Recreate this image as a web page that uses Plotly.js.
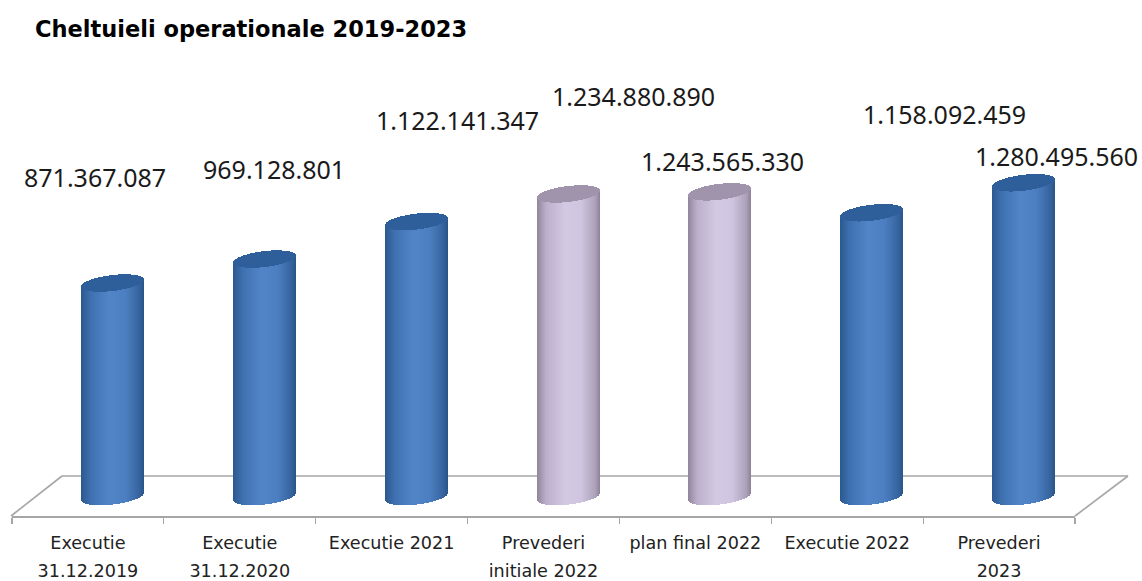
<!DOCTYPE html>
<html>
<head>
<meta charset="utf-8">
<script src="https://cdn.plot.ly/plotly-3.0.1.min.js"></script>
<style>html,body{margin:0;padding:0;background:#fff}</style>
</head>
<body>
<div id="chart" style="width:1142px;height:581px"></div>
<script>
// ---- data ----
const categories = ["Executie<br>31.12.2019", "Executie<br>31.12.2020", "Executie 2021", "Prevederi<br>initiale 2022", "plan final 2022", "Executie 2022", "Prevederi<br>2023"];
const values = [871367087, 969128801, 1122141347, 1234880890, 1243565330, 1158092459, 1280495560];
const valueLabels = ["871.367.087", "969.128.801", "1.122.141.347", "1.234.880.890", "1.243.565.330", "1.158.092.459", "1.280.495.560"];
const seriesKind = ["blue", "blue", "blue", "lilac", "lilac", "blue", "blue"];
const labelDx = [-17, 10, 41, 65, 3, 73, 33];
const labelDy = [-106, -90, -102, -98, -31, -99, -27];

// ---- geometry ----
const W = 1142, H = 581;
const plotL = 12, plotR = 1075, plotT = 50, plotB = 516;
const zeroPx = 496.5, pxPerUnit = 0.245 / 1e6;
const catPx = (plotR - plotL) / 7;
const shift = 24.5 / catPx;
const barW = 63 / catPx;
const capA = 8, capTilt = 3.5;
const yMin = -(plotB - zeroPx) / pxPerUnit, yMax = (zeroPx - plotT) / pxPerUnit;
const px2u = p => p / pxPerUnit;

const stops = {
  blue:  [[-1,[44,88,142]],[-0.7,[62,112,176]],[-0.1,[82,133,200]],[0.4,[76,127,194]],[0.85,[54,100,158]],[1,[42,84,136]]],
  lilac: [[-1,[145,133,157]],[-0.7,[188,176,204]],[-0.1,[211,201,227]],[0.4,[207,197,224]],[0.85,[172,161,185]],[1,[140,129,151]]]
};
const capColor = {blue: "#2f5f9b", lilac: "#a094ad"};
function shade(kind, t) {
  const s = stops[kind];
  for (let i = 1; i < s.length; i++) {
    if (t <= s[i][0]) {
      const f = (t - s[i-1][0]) / (s[i][0] - s[i-1][0]);
      const c = s[i-1][1].map((v, k) => Math.round(v + (s[i][1][k] - v) * f));
      return "rgb(" + c.join(",") + ")";
    }
  }
  return "rgb(" + s[s.length-1][1].join(",") + ")";
}

const traces = [];
// category axis carrier
traces.push({type: "scatter", mode: "lines", x: categories, y: values.map(() => 0), line: {width: 0, color: "rgba(0,0,0,0)"}, hoverinfo: "skip", showlegend: false, xaxis: "x", yaxis: "y"});
// the real bars
traces.push({type: "bar", name: "Cheltuieli", x: categories, y: values, width: barW * 0.7, marker: {color: seriesKind.map(k => shade(k, 0))}, xaxis: "x2", yaxis: "y", showlegend: false});
// cylinder shading: vertical strips
const N = 63;
for (let i = 0; i < N; i++) {
  const t0 = -1 + 2 * i / N, t1 = -1 + 2 * (i + 1) / N, t = (t0 + t1) / 2;
  const r = capA * Math.sqrt(1 - t * t), tl = capTilt * t;
  const common = {type: "bar", x: categories, offset: t0 * barW / 2, width: (t1 - t0) * barW / 2, xaxis: "x2", yaxis: "y", showlegend: false, hoverinfo: "skip"};
  traces.push(Object.assign({}, common, {
    base: values.map(() => px2u(tl - r)),
    y: values.map(v => v),
    marker: {color: seriesKind.map(k => shade(k, t)), line: {width: 0}}
  }));
  traces.push(Object.assign({}, common, {
    base: values.map(v => v + px2u(tl - r)),
    y: values.map(() => px2u(2 * r)),
    marker: {color: seriesKind.map(k => capColor[k]), line: {width: 0}}
  }));
}

const annotations = valueLabels.map((txt, i) => ({
  xref: "x2", yref: "y", x: i, y: values[i], text: txt, showarrow: false,
  xanchor: "center", yanchor: "middle", xshift: labelDx[i], yshift: -labelDy[i],
  font: {family: "Noto Sans", size: 25, color: "#1a1a1a"}
}));

const floorColor = "#a6a6a6";
const fx = p => (p - plotL) / (plotR - plotL);
const fy = p => (plotB - p) / (plotB - plotT);
const floorLine = (x0, y0, x1, y1) => ({type: "line", xref: "paper", yref: "paper", layer: "below", x0: fx(x0), y0: fy(y0), x1: fx(x1), y1: fy(y1), line: {color: floorColor, width: 1.6}});

const layout = {
  width: W, height: H, paper_bgcolor: "#fff", plot_bgcolor: "#fff",
  margin: {l: plotL, r: W - plotR, t: plotT, b: H - plotB, pad: 0},
  showlegend: false, barmode: "overlay", bargap: 0,
  title: {text: "<b>Cheltuieli operationale 2019-2023</b>", x: 35 / W, xanchor: "left", y: 1 - 29 / H, yanchor: "middle", font: {family: "DejaVu Sans", size: 22.5, color: "#000"}},
  xaxis: {type: "category", categoryorder: "array", categoryarray: categories, range: [-0.5, 6.5], tickson: "boundaries", ticks: "outside", ticklen: 6, tickwidth: 1.2, tickcolor: floorColor, showline: true, linecolor: floorColor, linewidth: 2, showgrid: false, zeroline: false, fixedrange: true, tickangle: 0, ticklabelstandoff: 5, tickfont: {family: "DejaVu Sans", size: 21.6, color: "#222"},
    tickvals: categories, ticktext: categories.map(c => c.split("<br>").map(s => '<span style="font-size:17.6px">' + s + '</span>').join("<br>"))},
  xaxis2: {type: "category", categoryorder: "array", categoryarray: categories, range: [-0.5 - shift, 6.5 - shift], overlaying: "x", anchor: "y", visible: false, fixedrange: true},
  yaxis: {range: [yMin, yMax], visible: false, showgrid: false, zeroline: false, fixedrange: true},
  shapes: [floorLine(62, 476, 1128, 476), floorLine(11, 516, 62, 476), floorLine(1075, 516, 1128, 476)],
  annotations: annotations
};
Plotly.newPlot("chart", traces, layout, {displayModeBar: false, staticPlot: true});
</script>
</body>
</html>
